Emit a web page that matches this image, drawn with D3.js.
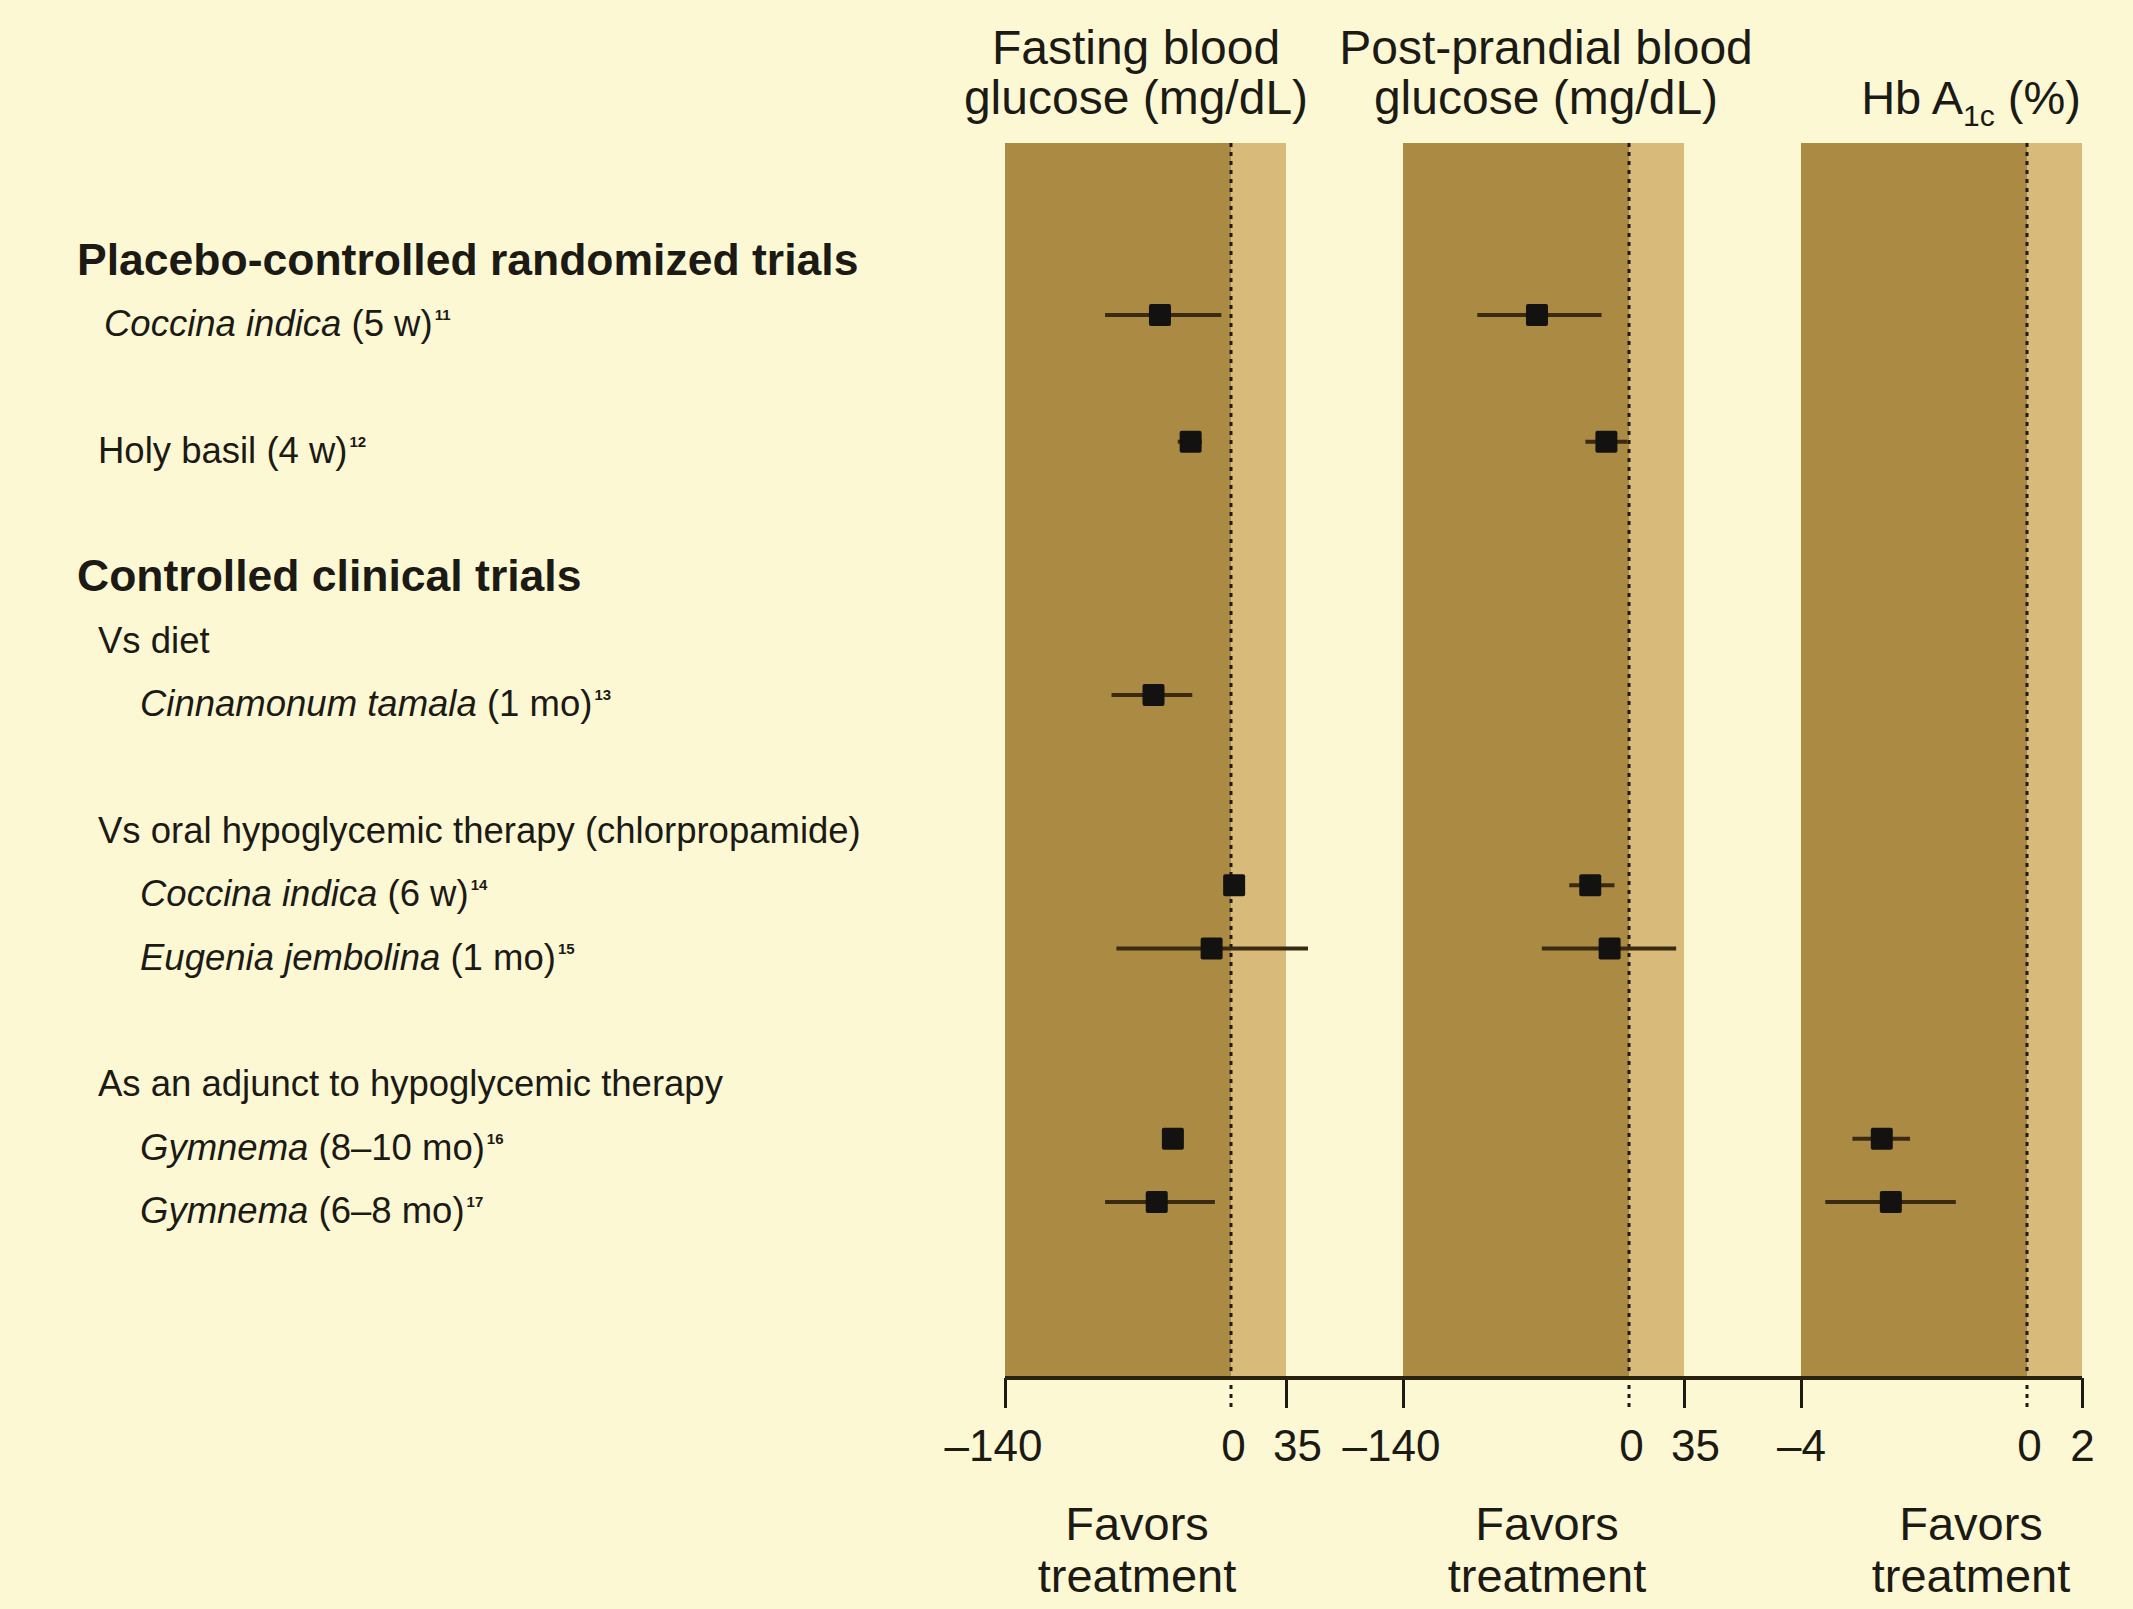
<!DOCTYPE html>
<html>
<head>
<meta charset="utf-8">
<script src="https://cdn.jsdelivr.net/npm/d3@7"></script>
<style>
  html, body { margin: 0; padding: 0; background: #fcf8d4; }
  svg { display: block; }
  text { font-family: "Liberation Sans", Arial, Helvetica, sans-serif; fill: #1c1a14; }
</style>
</head>
<body>
<svg id="chart" width="2133" height="1609"></svg>
<script>
// ---------------- DATA ----------------
const rowSlots = d3.range(16);   // categorical row slots (incl. blank spacer rows)

const headings = ["Placebo-controlled randomized trials", "Controlled clinical trials"];
const headingRows = [0, 5];

const subgroups = ["Vs diet", "Vs oral hypoglycemic therapy (chlorpropamide)", "As an adjunct to hypoglycemic therapy"];
const subgroupRows = [6, 9, 13];

const studies = ["Coccina indica", "Holy basil", "Cinnamonum tamala", "Coccina indica", "Eugenia jembolina", "Gymnema", "Gymnema"];
const studyItalic = [true, false, true, true, true, true, true];
const studyDuration = ["(5 w)", "(4 w)", "(1 mo)", "(6 w)", "(1 mo)", "(8–10 mo)", "(6–8 mo)"];
const studyRef = ["11", "12", "13", "14", "15", "16", "17"];
const studyRows = [1, 3, 7, 10, 11, 14, 15];
const studyLevel = [1, 1, 2, 2, 2, 2, 2];

// Fasting blood glucose (mg/dL): mean difference and CI
const fbgMean = [-44, -25, -48, 2, -12, -36, -46];
const fbgLow  = [-78, -33, -74, -2, -71, -39, -78];
const fbgHigh = [-6, -18, -24, 6, 49, -33, -10];

// Post-prandial blood glucose (mg/dL)
const ppbgMean = [-57, -14, null, -24, -12, null, null];
const ppbgLow  = [-94, -27, null, -37, -54, null, null];
const ppbgHigh = [-17, -1, null, -9, 30, null, null];

// Hb A1c (%)
const hbMean = [null, null, null, null, null, -2.57, -2.41];
const hbLow  = [null, null, null, null, null, -3.09, -3.57];
const hbHigh = [null, null, null, null, null, -2.07, -1.26];

const panelTitleLine1 = ["Fasting blood", "Post-prandial blood", ""];
const panelTitleLine2 = ["glucose (mg/dL)", "glucose (mg/dL)", null];
const panelTicks = [[-140, 0, 35], [-140, 0, 35], [-4, 0, 2]];
const panelTickLabels = [["–140", "0", "35"], ["–140", "0", "35"], ["–4", "0", "2"]];
const favorsLabel = ["Favors", "treatment"];

// ---------------- LAYOUT ----------------
const panelLeft = [1005, 1403, 1801];
const panelWidth = 281;
const zeroOffset = 226;
const panelTop = 143;
const axisY = 1378;
const tickLen = 30;
const titleCenterOffset = [131, 143, 170];
const favorsCenterOffset = [132, 144, 170];
const labelX = { head: 77, 1: 98, 2: 140 };

const colDark = "#ab8a43";
const colLight = "#d8bb7a";
const colInk = "#1c1a14";
const colWhisker = "#3a2a12";

const svg = d3.select("#chart");

const y = d3.scalePoint().domain(rowSlots).range([251.6, 1202]);

const panels = [
  { mean: fbgMean, low: fbgLow, high: fbgHigh },
  { mean: ppbgMean, low: ppbgLow, high: ppbgHigh },
  { mean: hbMean, low: hbLow, high: hbHigh }
];

panels.forEach((p, i) => {
  const t = panelTicks[i];
  const left = panelLeft[i];
  p.x = d3.scaleLinear().domain(t).range([left, left + zeroOffset, left + panelWidth]);
});

// ---------- Panels: background bands ----------
panels.forEach((p, i) => {
  const x = p.x;
  const [d0, d1, d2] = panelTicks[i];
  const g = svg.append("g");
  g.append("rect")
    .attr("x", x(d0)).attr("y", panelTop)
    .attr("width", x(d1) - x(d0)).attr("height", axisY - panelTop)
    .attr("fill", colDark);
  g.append("rect")
    .attr("x", x(d1)).attr("y", panelTop)
    .attr("width", x(d2) - x(d1)).attr("height", axisY - panelTop)
    .attr("fill", colLight);
  g.append("line")
    .attr("x1", x(0)).attr("x2", x(0))
    .attr("y1", panelTop).attr("y2", axisY + tickLen)
    .attr("stroke", colInk).attr("stroke-width", 3)
    .attr("stroke-dasharray", "4,5");
});

// ---------- Axes ----------
panels.forEach((p, i) => {
  const labels = panelTickLabels[i];
  const ticks = panelTicks[i];
  const axis = d3.axisBottom(p.x)
    .tickValues(ticks)
    .tickSize(tickLen)
    .tickPadding(22)
    .tickSizeOuter(0)
    .tickFormat((d, k) => labels[k]);
  const g = svg.append("g").attr("transform", `translate(0,${axisY})`).call(axis);
  g.select(".domain").remove();
  g.selectAll(".tick line")
    .attr("stroke", colInk).attr("stroke-width", 3)
    .attr("opacity", d => d === 0 ? 0 : 1);
  g.selectAll(".tick text")
    .attr("fill", colInk)
    .style("font-size", "44px")
    .attr("dx", (d, k) => {
      if (k === 0 && labels[k].length > 2) return -12;
      if (k === ticks.length - 1 && labels[k].length > 1) return 11;
      return k === 1 ? 2 : 0;
    });
});

// continuous axis baseline across all panels
svg.append("line")
  .attr("x1", panels[0].x(panelTicks[0][0]))
  .attr("x2", panels[2].x(panelTicks[2][2]))
  .attr("y1", axisY).attr("y2", axisY)
  .attr("stroke", "#2b2110").attr("stroke-width", 4);

// ---------- Panel titles ----------
panels.forEach((p, i) => {
  const cx = panelLeft[i] + titleCenterOffset[i];
  if (panelTitleLine1[i]) {
    svg.append("text").attr("x", cx).attr("y", 64)
      .attr("text-anchor", "middle").style("font-size", "48px")
      .text(panelTitleLine1[i]);
  }
  if (panelTitleLine2[i]) {
    svg.append("text").attr("x", cx).attr("y", 114)
      .attr("text-anchor", "middle").style("font-size", "48px")
      .text(panelTitleLine2[i]);
  } else {
    const t = svg.append("text").attr("x", cx).attr("y", 114)
      .attr("text-anchor", "middle").style("font-size", "47px");
    t.append("tspan").text("Hb A");
    t.append("tspan").attr("dy", 12).style("font-size", "30px").text("1c");
    t.append("tspan").attr("dy", -12).text(" (%)");
  }
  const fx = panelLeft[i] + favorsCenterOffset[i];
  favorsLabel.forEach((s, k) => {
    svg.append("text").attr("x", fx).attr("y", 1540 + k * 52)
      .attr("text-anchor", "middle").style("font-size", "47px")
      .text(s);
  });
});

// ---------- Row labels ----------
headings.forEach((h, i) => {
  svg.append("text")
    .attr("x", labelX.head).attr("y", y(headingRows[i]) + 23)
    .style("font-size", "44.5px").style("font-weight", "bold")
    .text(h);
});

subgroups.forEach((s, i) => {
  svg.append("text")
    .attr("x", labelX[1]).attr("y", y(subgroupRows[i]) + 21)
    .style("font-size", "36.5px")
    .text(s);
});

studies.forEach((s, i) => {
  const extra = (studyLevel[i] === 1 && studyItalic[i]) ? 6 : 0;
  const t = svg.append("text")
    .attr("x", labelX[studyLevel[i]] + extra).attr("y", y(studyRows[i]) + 21)
    .style("font-size", "36.5px");
  t.append("tspan").style("font-style", studyItalic[i] ? "italic" : "normal").text(s);
  t.append("tspan").text(" " + studyDuration[i]);
  t.append("tspan").attr("dy", -16).attr("dx", 2).style("font-size", "15px").style("font-weight", "bold").text(studyRef[i]);
});

// ---------- Estimates: whiskers and squares ----------
panels.forEach((p, i) => {
  const idx = d3.range(studies.length).filter(k => p.mean[k] !== null);
  const g = svg.append("g");
  g.selectAll("line.ci").data(idx).join("line")
    .attr("class", "ci")
    .attr("x1", k => p.x(p.low[k])).attr("x2", k => p.x(p.high[k]))
    .attr("y1", k => y(studyRows[k])).attr("y2", k => y(studyRows[k]))
    .attr("stroke", colWhisker).attr("stroke-width", 4);
  g.selectAll("rect.pt").data(idx).join("rect")
    .attr("class", "pt")
    .attr("x", k => p.x(p.mean[k]) - 11).attr("y", k => y(studyRows[k]) - 11)
    .attr("width", 22).attr("height", 22).attr("rx", 2)
    .attr("fill", "#141210");
});
</script>
</body>
</html>
